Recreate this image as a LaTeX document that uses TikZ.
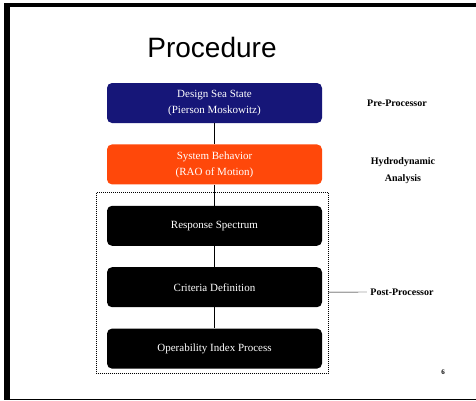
\documentclass[tikz,border=0pt]{standalone}
\usepackage{fontspec}
\setmainfont{Liberation Serif}
\newfontfamily\titlefont{Liberation Sans}
\usetikzlibrary{positioning,calc}
\definecolor{stateblue}{RGB}{22,22,120}
\definecolor{motionred}{RGB}{255,72,10}

\begin{document}
\begin{tikzpicture}[x=1pt,y=1pt,
  stagebox/.style={rounded corners=5pt, minimum width=215pt,
    minimum height=40pt, inner sep=0pt, text=white, align=center,
    font=\fontsize{11}{16}\selectfont},
  sidelabel/.style={align=center, font=\fontsize{10}{17}\selectfont\bfseries}]

% Slide parameters
\def \gap{21pt} % Defines the vertical gap between the stages

% Slide frame (thick on the top and left, thin at the bottom)
\useasboundingbox (0,0) rectangle (476,400);
\fill[white] (0,0) rectangle (476,400);
\fill[black] (4,393) rectangle (476,397);
\fill[black] (4,1)   rectangle (10,397);
\draw[black, line width=1.5pt] (4,0.75) -- (476,0.75);

% Title
\node[font=\titlefont\fontsize{28}{30}\selectfont] (title) at (212,353) {Procedure};

% The stages of the procedure, one under the other
\node[stagebox, fill=stateblue] (seastate) at (214.5,297)
  {Design Sea State\\(Pierson Moskowitz)};
\node[stagebox, fill=motionred, below=\gap of seastate] (behavior)
  {System Behavior\\(RAO of Motion)};
\node[stagebox, fill=black, below=\gap of behavior]    (response)
  {Response Spectrum};
\node[stagebox, fill=black, below=\gap of response]    (criteria)
  {Criteria Definition};
\node[stagebox, fill=black, below=\gap of criteria]    (operability)
  {Operability Index Process};

% Vertical connectors between the stages
\draw[thin] (seastate) -- (behavior)
            (behavior) -- (response)
            (response) -- (criteria)
            (criteria) -- (operability);

% Dotted frame round the post-processing stages
\coordinate (postNW) at ($(response.north west)+(-10,13)$);
\coordinate (postSE) at ($(operability.south east)+(6,-5)$);
\draw[densely dotted, line width=1pt] (postNW) rectangle (postSE);

% Labels on the right
\node[sidelabel] (pre)   at (397,297) {Pre-Processor};
\node[sidelabel] (hydro) at (403,229) {Hydrodynamic\\Analysis};
\node[sidelabel] (post)  at (402,108) {Post-Processor};

\coordinate (postE) at ($(postSE |- criteria)+(0,-5)$);
\draw[thin] (postE) -- (post.west);

% Slide number
\node[font=\fontsize{7}{7}\selectfont\bfseries] (slideno) at (443,28) {6};
\end{tikzpicture}
\end{document}
